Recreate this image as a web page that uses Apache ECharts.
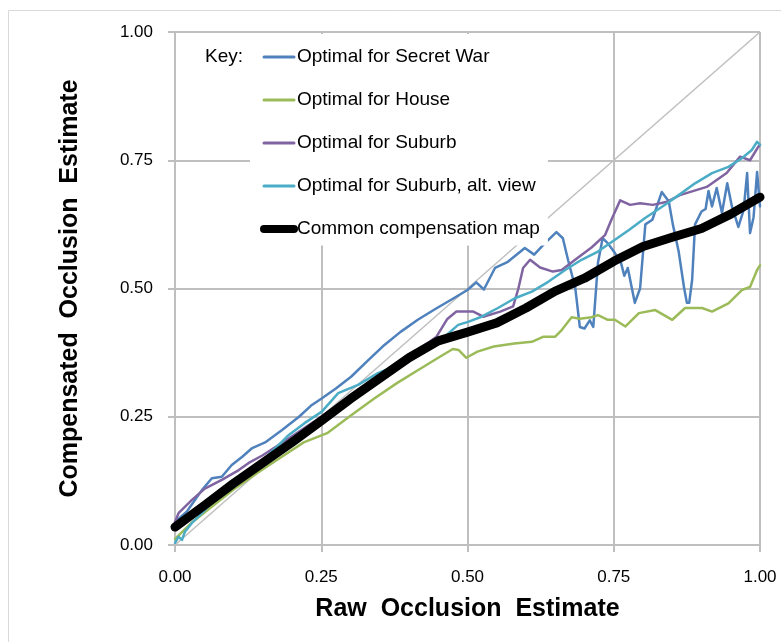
<!DOCTYPE html>
<html>
<head>
<meta charset="utf-8">
<script src="https://cdn.jsdelivr.net/npm/echarts@6/dist/echarts.min.js"></script>
<style>
  html, body { margin: 0; padding: 0; background: #fff; }
  #chart { width: 781px; height: 642px; }
</style>
</head>
<body>
<div id="chart"></div>
<script>
// tick labels on both axes
const ticks = ["0.00", "0.25", "0.50", "0.75", "1.00"];
const seriesNames = [
  "Optimal for Secret War",
  "Optimal for House",
  "Optimal for Suburb",
  "Optimal for Suburb, alt. view",
  "Common compensation map",
];

// [raw, compensated] pairs
const secretWar = [
  [0, 0.045], [0.02, 0.065], [0.046, 0.107], [0.063, 0.13], [0.08, 0.133],
  [0.097, 0.156], [0.115, 0.172], [0.132, 0.189], [0.154, 0.2], [0.183, 0.224],
  [0.212, 0.25], [0.234, 0.273], [0.25, 0.285], [0.275, 0.305], [0.301, 0.328],
  [0.33, 0.36], [0.358, 0.39], [0.385, 0.415], [0.415, 0.439], [0.445, 0.46],
  [0.472, 0.478], [0.5, 0.497], [0.515, 0.512], [0.528, 0.498], [0.547, 0.54],
  [0.569, 0.552], [0.598, 0.579], [0.614, 0.566], [0.632, 0.588], [0.652, 0.61],
  [0.663, 0.598], [0.672, 0.555], [0.684, 0.503], [0.692, 0.425], [0.7, 0.422],
  [0.709, 0.438], [0.715, 0.425], [0.723, 0.55], [0.731, 0.598], [0.74, 0.588],
  [0.752, 0.569], [0.762, 0.552], [0.768, 0.525], [0.774, 0.54], [0.786, 0.472],
  [0.795, 0.5], [0.804, 0.625], [0.816, 0.634], [0.832, 0.688], [0.844, 0.67],
  [0.851, 0.625], [0.861, 0.572], [0.87, 0.503], [0.875, 0.472], [0.879, 0.472],
  [0.884, 0.517], [0.889, 0.625], [0.9, 0.65], [0.907, 0.655], [0.912, 0.69],
  [0.918, 0.66], [0.926, 0.696], [0.935, 0.647], [0.944, 0.705], [0.952, 0.66],
  [0.963, 0.62], [0.972, 0.653], [0.978, 0.725], [0.983, 0.608], [0.989, 0.639],
  [0.995, 0.727], [1, 0.66],
];
const house = [
  [0, 0.012], [0.03, 0.045], [0.06, 0.072], [0.1, 0.108], [0.14, 0.14],
  [0.18, 0.17], [0.22, 0.2], [0.26, 0.218], [0.3, 0.252], [0.34, 0.285],
  [0.38, 0.316], [0.42, 0.344], [0.45, 0.365], [0.475, 0.382], [0.485, 0.38],
  [0.498, 0.365], [0.517, 0.377], [0.545, 0.387], [0.58, 0.393], [0.61, 0.396],
  [0.63, 0.406], [0.65, 0.406], [0.661, 0.419], [0.678, 0.444], [0.692, 0.441],
  [0.712, 0.444], [0.723, 0.448], [0.74, 0.439], [0.752, 0.439], [0.77, 0.426],
  [0.793, 0.452], [0.821, 0.458], [0.85, 0.439], [0.872, 0.462], [0.901, 0.462],
  [0.918, 0.455], [0.946, 0.471], [0.969, 0.497], [0.983, 0.503], [0.995, 0.536],
  [1, 0.545],
];
const suburb = [
  [0, 0.045], [0.006, 0.062], [0.029, 0.088], [0.051, 0.11], [0.08, 0.127],
  [0.109, 0.146], [0.126, 0.16], [0.15, 0.175], [0.2, 0.212], [0.25, 0.25],
  [0.3, 0.29], [0.35, 0.33], [0.4, 0.37], [0.43, 0.392], [0.447, 0.406],
  [0.465, 0.44], [0.481, 0.455], [0.51, 0.455], [0.527, 0.445], [0.556, 0.455],
  [0.578, 0.465], [0.587, 0.5], [0.595, 0.54], [0.607, 0.556], [0.624, 0.541],
  [0.646, 0.533], [0.661, 0.536], [0.684, 0.556], [0.712, 0.58], [0.735, 0.604],
  [0.746, 0.634], [0.761, 0.672], [0.778, 0.663], [0.795, 0.666], [0.817, 0.663],
  [0.841, 0.669], [0.863, 0.682], [0.909, 0.698], [0.943, 0.725], [0.966, 0.757],
  [0.983, 0.75], [0.997, 0.776], [1, 0.78],
];
const suburbAlt = [
  [0, 0.004], [0.006, 0.016], [0.012, 0.01], [0.017, 0.026], [0.029, 0.043],
  [0.046, 0.062], [0.063, 0.082], [0.09, 0.105], [0.12, 0.135], [0.15, 0.165],
  [0.18, 0.198], [0.194, 0.214], [0.222, 0.238], [0.251, 0.26], [0.279, 0.296],
  [0.313, 0.312], [0.347, 0.335], [0.381, 0.351], [0.398, 0.37], [0.415, 0.38],
  [0.438, 0.396], [0.461, 0.406], [0.484, 0.429], [0.501, 0.435], [0.524, 0.445],
  [0.552, 0.462], [0.581, 0.481], [0.61, 0.494], [0.638, 0.513], [0.667, 0.536],
  [0.695, 0.556], [0.723, 0.572], [0.752, 0.595], [0.776, 0.614], [0.803, 0.637],
  [0.832, 0.659], [0.861, 0.682], [0.889, 0.705], [0.918, 0.725], [0.946, 0.737],
  [0.969, 0.754], [0.986, 0.77], [0.995, 0.786], [1, 0.78],
];
const common = [
  [0, 0.035], [0.05, 0.077], [0.1, 0.12], [0.15, 0.16], [0.2, 0.2],
  [0.25, 0.242], [0.3, 0.285], [0.35, 0.325], [0.4, 0.365], [0.45, 0.398],
  [0.5, 0.415], [0.55, 0.433], [0.6, 0.462], [0.65, 0.495], [0.7, 0.52],
  [0.75, 0.553], [0.8, 0.582], [0.85, 0.6], [0.9, 0.617], [0.95, 0.645],
  [1, 0.678],
];
const diagonal = [[0, 0], [1, 1]];

const colors = ["#4f81bd", "#9bbb59", "#8064a2", "#4bacc6", "#000000"];
const seriesData = [secretWar, house, suburb, suburbAlt, common];

const chart = echarts.init(document.getElementById("chart"));
const font = "'Liberation Sans', Arial, sans-serif";

function valueAxis(extra) {
  return Object.assign({
    type: "value",
    min: 0,
    max: 1,
    interval: 0.25,
    axisLine: { show: true, lineStyle: { color: "#bfbfbf", width: 2 } },
    axisTick: { show: true, length: 7, lineStyle: { color: "#bfbfbf", width: 2 } },
    splitLine: { show: true, lineStyle: { color: "#bfbfbf", width: 2 } },
    axisLabel: {
      color: "#000",
      fontSize: 17,
      fontFamily: font,
      formatter: (v) => ticks[Math.round(v * 4)],
    },
    nameLocation: "middle",
    nameTextStyle: { color: "#000", fontSize: 25, fontWeight: "bold", fontFamily: font },
  }, extra);
}

const series = [{
  name: "diagonal",
  type: "line",
  data: diagonal,
  symbol: "none",
  silent: true,
  lineStyle: { color: "#bfbfbf", width: 1.5 },
  z: 1,
}];
seriesData.forEach((d, i) => {
  series.push({
    name: seriesNames[i],
    type: "line",
    data: d,
    symbol: "none",
    color: colors[i],
    lineStyle: { color: colors[i], width: i === 4 ? 9 : 2.5, cap: "round", join: "round" },
    z: 2 + i,
  });
});

// legend entries, the black one drawn thick like in the plot
const legendData = seriesNames.map((n, i) => ({
  name: n,
  lineStyle: { width: i === 4 ? 8 : 3, cap: "round" },
}));

chart.setOption({
  animation: false,
  backgroundColor: "#fff",
  grid: { left: 175, right: 21, top: 32, bottom: 97 },
  xAxis: valueAxis({
    name: "Raw  Occlusion  Estimate",
    nameGap: 52,
    axisLabel: Object.assign(valueAxis().axisLabel, { margin: 24 }),
  }),
  yAxis: valueAxis({
    name: "Compensated  Occlusion  Estimate",
    nameGap: 92,
    axisLabel: Object.assign(valueAxis().axisLabel, { margin: 22 }),
  }),
  legend: {
    data: legendData,
    orient: "vertical",
    left: 250,
    top: 34,
    padding: [13.5, 8, 7, 10],
    itemGap: 24,
    itemWidth: 30,
    itemHeight: 9,
    backgroundColor: "#fff",
    itemStyle: { opacity: 0 },
    textStyle: { color: "#000", fontSize: 19, fontFamily: font, padding: [0, 0, 0, -2] },
    selectedMode: false,
  },
  graphic: [
    {
      type: "rect",
      shape: { x: 8.5, y: 10.5, width: 800, height: 640 },
      style: { fill: "none", stroke: "#d9d9d9", lineWidth: 1 },
      silent: true,
      z: -1,
    },
    {
      type: "text",
      left: 205,
      top: 47,
      style: { text: "Key:", fill: "#000", fontSize: 19, fontFamily: font },
      z: 10,
    },
  ],
  series: series,
});
</script>
</body>
</html>
